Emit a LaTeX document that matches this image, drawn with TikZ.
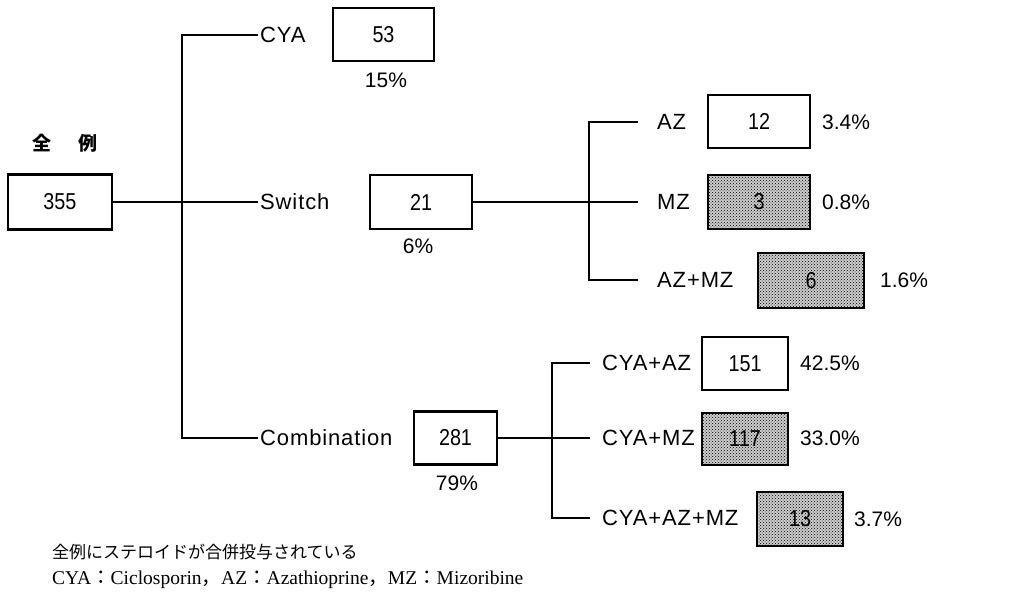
\documentclass[tikz,border=0pt]{standalone}
\usepackage{fontspec}
\setmainfont{Liberation Serif}
\newfontfamily\lbl[LetterSpace=4]{Liberation Sans}
\newfontfamily\numf[FakeStretch=0.86]{Liberation Sans}
\newfontfamily\pctf{Liberation Sans}
\newfontfamily\cjk{Noto Sans CJK JP}
\usetikzlibrary{patterns}
\tikzset{
  box/.style={draw, line width=2.6pt, inner sep=0pt, font=\numf\fontsize{23}{26}\selectfont},
  shaded/.style={box, preaction={fill=black!20}, pattern=crosshatch dots, pattern color=black},
  lab/.style={anchor=west, inner sep=2pt, text depth=0pt, font=\lbl\fontsize{22}{26}\selectfont},
  pct/.style={inner sep=0pt, text depth=0pt, font=\pctf\fontsize{21}{24}\selectfont},
  conn/.style={line width=2.4pt},
}
\begin{document}
\begin{tikzpicture}[x=1pt,y=-1pt]
\useasboundingbox (0,0) rectangle (1021,602);
% boxes
\node[box, minimum width=104pt, minimum height=55pt] (n355) at (60,202) {355};
\node[box, minimum width=101pt, minimum height=53pt] (n53) at (383.5,34.5) {53};
\node[box, minimum width=102pt, minimum height=54pt] (n21) at (421,202) {21};
\node[box, minimum width=102pt, minimum height=53pt] (n12) at (759,121.5) {12};
\node[shaded, minimum width=102pt, minimum height=54pt] (n3) at (759,202) {3};
\node[shaded, minimum width=106pt, minimum height=55pt] (n6) at (811,280.5) {6};
\node[box, minimum width=83pt, minimum height=53pt] (n281) at (455.5,438) {281};
\node[box, minimum width=86pt, minimum height=53pt] (n151) at (745,363.5) {151};
\node[shaded, minimum width=86pt, minimum height=52pt] (n117) at (745,439) {117};
\node[shaded, minimum width=86pt, minimum height=54pt] (n13) at (800,519) {13};
% title
\node[inner sep=0pt, font=\cjk\bfseries\fontsize{19}{22}\selectfont] (title) at (65,143) {全\hspace{28pt}例};
% first level labels
\node[lab] (lcya) at (258,35) {CYA};
\node[lab] (lsw) at (258,202) {Switch};
\node[lab] (lcomb) at (258,438) {Combination};
% percentages
\node[pct] (p15) at (386,80) {15\%};
\node[pct] (p6) at (418,246) {6\%};
\node[pct] (p79) at (457,483) {79\%};
\node[pct, anchor=west] (p34) at (822,122) {3.4\%};
\node[pct, anchor=west] (p08) at (822,202) {0.8\%};
\node[pct, anchor=west] (p16) at (880,280) {1.6\%};
\node[pct, anchor=west] (p425) at (800,363) {42.5\%};
\node[pct, anchor=west] (p330) at (800,438) {33.0\%};
\node[pct, anchor=west] (p37) at (854,519) {3.7\%};
% second level labels
\node[lab] (laz) at (655,122) {AZ};
\node[lab] (lmz) at (655,202) {MZ};
\node[lab] (lazmz) at (655,280) {AZ+MZ};
\node[lab] (lca) at (600,363) {CYA+AZ};
\node[lab] (lcm) at (600,438) {CYA+MZ};
\node[lab] (lcam) at (600,518) {CYA+AZ+MZ};
% coordinates
\coordinate (jt) at (182,35);
\coordinate (j0) at (182,202);
\coordinate (jb) at (182,438);
\coordinate (s0) at (589,202);
\coordinate (st) at (589,122);
\coordinate (sb) at (589,280);
\coordinate (sa) at (638,122);
\coordinate (sm) at (638,202);
\coordinate (sam) at (638,280);
\coordinate (c0) at (552,438);
\coordinate (ct) at (552,363);
\coordinate (cb) at (552,518);
\coordinate (ca) at (590,363);
\coordinate (cm) at (590,438);
\coordinate (cam) at (590,518);
% connectors
\draw[conn] (n355.east) -- (j0);
\draw[conn] (lcya.west) -- (jt) -- (jb) -- (lcomb.west);
\draw[conn] (j0) -- (lsw.west);
\draw[conn] (n21.east) -- (s0);
\draw[conn] (sa) -- (st) -- (sb) -- (sam);
\draw[conn] (s0) -- (sm);
\draw[conn] (n281.east) -- (c0);
\draw[conn] (ca) -- (ct) -- (cb) -- (cam);
\draw[conn] (c0) -- (cm);
% notes
\node[anchor=west, inner sep=0pt, font=\cjk\fontsize{17}{20}\selectfont] (note1) at (52,552) {全例にステロイドが合併投与されている};
\node[anchor=west, inner sep=0pt, font=\fontsize{19.5}{22}\selectfont] (note2) at (52,580) {CYA{\cjk ：}Ciclosporin{\cjk ，}AZ{\cjk ：}Azathioprine{\cjk ，}MZ{\cjk ：}Mizoribine};
\end{tikzpicture}
\end{document}
